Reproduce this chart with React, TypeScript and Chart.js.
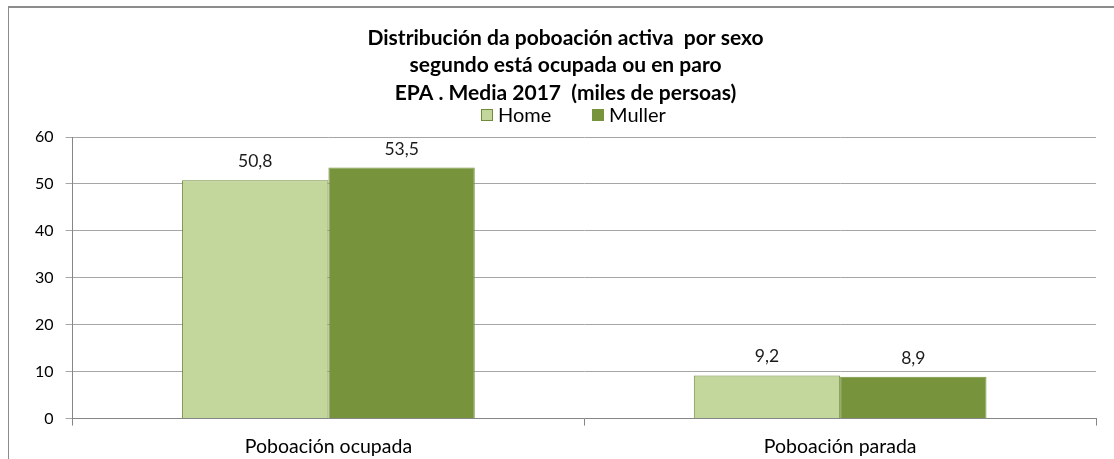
import React, { useEffect, useRef } from "react";
import { Chart, registerables } from "chart.js";

Chart.register(...registerables);

const categories = ["Poboación ocupada", "Poboación parada"];
const homeValues = [50.8, 9.2];
const mullerValues = [53.5, 8.9];
const yTicks = [0, 10, 20, 30, 40, 50, 60];
const seriesNames = ["Home", "Muller"];
const titleLines = [
  "Distribución da poboación activa  por sexo",
  "segundo está ocupada ou en paro",
  "EPA . Media 2017  (miles de persoas)",
];

const FONT = "Lato, 'Open Sans', sans-serif";

const valueLabels = {
  id: "valueLabels",
  afterDatasetsDraw(chart: any) {
    const ctx = chart.ctx;
    ctx.save();
    ctx.font = `17.5px ${FONT}`;
    ctx.fillStyle = "#1a1a1a";
    ctx.textAlign = "center";
    ctx.textBaseline = "alphabetic";
    chart.data.datasets.forEach((ds: any, i: number) => {
      const meta = chart.getDatasetMeta(i);
      meta.data.forEach((bar: any, j: number) => {
        const v = ds.data[j];
        ctx.fillText(v.toFixed(1).replace(".", ","), bar.x, bar.y - 13);
      });
    });
    ctx.restore();
  },
};

// Title and legend drawn in the header band above the plot area
const header = {
  id: "header",
  afterDraw(chart: any) {
    const ctx = chart.ctx;
    ctx.save();
    const cx = 565.5;
    ctx.fillStyle = "#000";
    ctx.textAlign = "center";
    ctx.textBaseline = "middle";
    ctx.font = `bold 21px ${FONT}`;
    titleLines.forEach((line, i) => {
      ctx.fillText(line, cx, 38 + i * 27.6);
    });
    // legend
    const legendY = 115;
    const starts = [481, 592];
    ctx.font = `20px ${FONT}`;
    ctx.textAlign = "left";
    chart.data.datasets.forEach((ds: any, i: number) => {
      const x = starts[i];
      ctx.fillStyle = ds.backgroundColor;
      ctx.fillRect(x, legendY - 6, 12, 12);
      ctx.strokeStyle = ds.borderColor;
      ctx.lineWidth = 1;
      ctx.strokeRect(x + 0.5, legendY - 5.5, 11, 11);
      ctx.fillStyle = "#000";
      ctx.fillText(seriesNames[i], x + 17, legendY + 1);
    });
    ctx.restore();
  },
};

export default function App() {
  const ref = useRef<HTMLCanvasElement>(null);
  useEffect(() => {
    if (!ref.current) return;
    const chart = new Chart(ref.current, {
      type: "bar",
      data: {
        labels: categories,
        datasets: [
          {
            label: seriesNames[0],
            data: homeValues,
            backgroundColor: "#c3d69b",
            borderColor: "#6f8a38",
            borderWidth: 1,
          },
          {
            label: seriesNames[1],
            data: mullerValues,
            backgroundColor: "#77933c",
            borderColor: "#77933c",
            borderWidth: 1,
          },
        ],
      },
      options: {
        responsive: false,
        animation: false,
        layout: { padding: { left: 23, right: 18, top: 137, bottom: -8 } },
        datasets: {
          bar: { barPercentage: 1, categoryPercentage: 0.572 },
        },
        plugins: {
          title: { display: false },
          legend: { display: false },
          tooltip: { enabled: false },
        },
        scales: {
          x: {
            grid: {
              display: true,
              drawOnChartArea: false,
              drawTicks: true,
              tickLength: 7,
              color: "#868686",
              offset: true,
            },
            border: { color: "#868686", width: 1 },
            ticks: {
              color: "#000",
              font: { family: FONT, size: 19.5 },
              padding: 9,
            },
          },
          y: {
            min: 0,
            max: 60,
            afterBuildTicks: (axis: any) => {
              axis.ticks = yTicks.map((v) => ({ value: v }));
            },
            grid: {
              color: "#a6a6a6",
              tickLength: 7,
              drawTicks: true,
            },
            border: { color: "#868686", width: 1 },
            ticks: {
              color: "#000",
              font: { family: FONT, size: 16 },
              padding: 12,
            },
          },
        },
      },
      plugins: [valueLabels, header],
    });
    return () => chart.destroy();
  }, []);
  return (
    <div style={{ position: "absolute", left: 0, top: 0, width: 1114, height: 459, overflow: "hidden", background: "#fff" }}>
      <div
        style={{
          position: "absolute",
          left: 8,
          top: 6,
          width: 1106,
          height: 460,
          borderTop: "2px solid #8c8c8c",
          borderLeft: "1px solid #8c8c8c",
          boxSizing: "border-box",
        }}
      />
      <canvas ref={ref} width={1114} height={459} style={{ position: "absolute", left: 0, top: 0 }} />
    </div>
  );
}
